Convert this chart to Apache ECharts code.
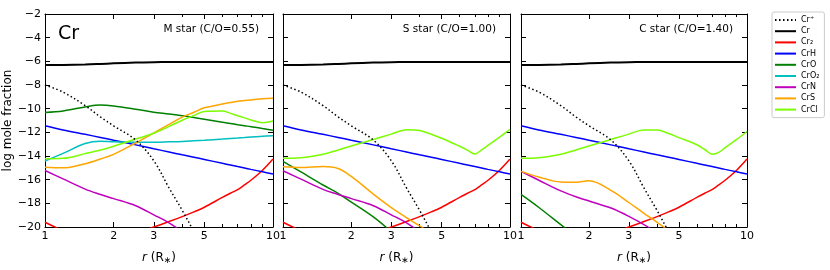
<!DOCTYPE html>
<html><head><meta charset="utf-8">
<script src="https://cdn.jsdelivr.net/npm/echarts@6/dist/echarts.min.js"></script>
<style>html,body{margin:0;padding:0;background:#fff}#c{width:830px;height:270px}</style>
</head><body><div id="c"></div>
<script>
// radius grid (R*)
const R = [1, 1.2, 1.5, 1.75, 2, 2.5, 3, 3.5, 4, 4.5, 5, 6, 6.5, 7, 7.5, 8, 9, 10];
const xMajorLabels = [1, 2, 3, 5, 10];
const xMinorTicks = [4, 6, 7, 8, 9];
const panelTitles = ['M star (C/O=0.55)', 'S star (C/O=1.00)', 'C star (C/O=1.40)'];
const speciesNames = ['Cr\u207A', 'Cr', 'Cr\u2082', 'CrH', 'CrO', 'CrO\u2082', 'CrN', 'CrS', 'CrCl'];

// common to all panels
const crPlus = [-8, -8.6, -9.74, -10.7, -11.45, -12.65, -14.4, -16.7, -18.6, -20.4, -22, null, null, null, null, null, null, null];
const crAtom = [-6.32, -6.31, -6.27, -6.22, -6.17, -6.1, -6.07, -6.06, -6.05, -6.05, -6.05, -6.05, -6.05, -6.05, -6.05, -6.05, -6.05, -6.05];
const cr2 = [-19.6, -20.3, -20.9, -21.0, -20.9, -20.5, -20.0, -19.54, -19.12, -18.72, -18.33, -17.5, -17.15, -16.84, -16.44, -16.05, -15.2, -14.26];
const crH = [-11.44, -11.8, -12.17, -12.43, -12.67, -13.06, -13.39, -13.66, -13.9, -14.1, -14.29, -14.62, -14.76, -14.89, -15.01, -15.13, -15.34, -15.53];

// M star
const crO_M = [-10.32, -10.2, -9.85, -9.7, -9.78, -10.05, -10.3, -10.45, -10.6, -10.75, -10.9, -11.15, -11.25, -11.35, -11.44, -11.52, -11.68, -11.82];
const crO2_M = [-14.42, -13.78, -12.95, -12.75, -12.8, -12.83, -12.83, -12.8, -12.77, -12.72, -12.67, -12.57, -12.52, -12.48, -12.44, -12.4, -12.33, -12.28];
const crN_M = [-15.23, -15.93, -16.8, -17.25, -17.6, -18.2, -18.97, -19.65, -20.4, -21.1, null, null, null, null, null, null, null, null];
const crS_M = [-14.95, -15.0, -14.65, -14.25, -13.86, -12.9, -12.05, -11.33, -10.71, -10.3, -9.93, -9.61, -9.48, -9.37, -9.31, -9.26, -9.17, -9.12];
const crCl_M = [-14.24, -14.2, -13.8, -13.5, -13.17, -12.57, -12.08, -11.5, -10.98, -10.57, -10.23, -10.2, -10.4, -10.6, -10.78, -10.95, -11.18, -11.05];

// S star
const crO_S = [-14.45, -15.35, -16.45, -17.15, -17.9, -19.15, -20.4, null, null, null, null, null, null, null, null, null, null, null];
const crO2_S = [null, null, null, null, null, null, null, null, null, null, null, null, null, null, null, null, null, null];
const crN_S = [-15.25, -15.95, -16.82, -17.25, -17.6, -18.2, -18.97, -19.65, -20.4, -21.1, null, null, null, null, null, null, null, null];
const crS_S = [-14.9, -14.97, -14.88, -15.05, -15.73, -17.22, -18.36, -19.2, -19.9, -20.5, null, null, null, null, null, null, null, null];
const crCl_S = [-14.2, -14.15, -13.85, -13.5, -13.15, -12.6, -12.15, -11.78, -11.85, -12.16, -12.5, -13.18, -13.5, -13.83, -13.48, -13.1, -12.4, -11.75];

// C star
const crO_C = [-17.25, -18.35, -19.8, -20.8, null, null, null, null, null, null, null, null, null, null, null, null, null, null];
const crO2_C = [null, null, null, null, null, null, null, null, null, null, null, null, null, null, null, null, null, null];
const crN_C = [-15.3, -16.05, -16.95, -17.45, -17.8, -18.4, -19.1, -19.8, -20.5, -21.2, null, null, null, null, null, null, null, null];
const crS_C = [-15.3, -15.78, -16.2, -16.22, -16.1, -16.9, -17.93, -18.84, -19.6, -20.3, null, null, null, null, null, null, null, null];
const crCl_C = [-14.2, -14.15, -13.85, -13.5, -13.15, -12.6, -12.15, -11.8, -11.8, -12.1, -12.45, -13.05, -13.45, -13.85, -13.7, -13.3, -12.6, -11.93];

const panels = [
  [crPlus, crAtom, cr2, crH, crO_M, crO2_M, crN_M, crS_M, crCl_M],
  [crPlus, crAtom, cr2, crH, crO_S, crO2_S, crN_S, crS_S, crCl_S],
  [crPlus, crAtom, cr2, crH, crO_C, crO2_C, crN_C, crS_C, crCl_C]
];
const colors = ['#000000', '#000000', '#ff0000', '#0000ff', '#008000', '#00bfbf', '#bf00bf', '#ffa500', '#7cfc00'];

const grids = [
  {left: 45, top: 14, width: 228, height: 223},
  {left: 283, top: 14, width: 227, height: 223},
  {left: 521, top: 14, width: 226, height: 223}
];

const FONT = 'DejaVu Sans';
const TICK = {color: '#000', width: 1};
const xAxes = [], yAxes = [], series = [], titles = [];
grids.forEach((g, gi) => {
  const base = {gridIndex: gi, type: 'log', logBase: 10, min: 1, max: 10, splitLine: {show: false}, minorTick: {show: false}};
  xAxes.push(Object.assign({}, base, {
    position: 'bottom',
    axisLine: {show: true, onZero: false, lineStyle: {color: '#000', width: 1}},
    axisTick: {show: true, inside: true, length: 5, customValues: xMajorLabels, lineStyle: TICK},
    axisLabel: {show: true, customValues: xMajorLabels, margin: 4, color: '#000', fontSize: 11, fontFamily: FONT},
    name: '{i|r} (R{s|\u2217})', nameLocation: 'middle', nameGap: 24,
    nameTextStyle: {color: '#000', fontSize: 12, fontFamily: FONT,
      rich: {i: {fontStyle: 'italic', fontSize: 12, fontFamily: FONT}, s: {fontSize: 9, fontFamily: FONT, padding: [5, 0, 0, 0]}}}
  }));
  xAxes.push(Object.assign({}, base, {
    position: 'bottom', axisLine: {show: false},
    axisTick: {show: true, inside: true, length: 3, customValues: xMinorTicks, lineStyle: TICK},
    axisLabel: {show: false}
  }));
  xAxes.push(Object.assign({}, base, {
    position: 'top',
    axisLine: {show: true, onZero: false, lineStyle: {color: '#000', width: 1}},
    axisTick: {show: true, inside: true, length: 5, customValues: xMajorLabels, lineStyle: TICK},
    axisLabel: {show: false}
  }));
  xAxes.push(Object.assign({}, base, {
    position: 'top', axisLine: {show: false},
    axisTick: {show: true, inside: true, length: 3, customValues: xMinorTicks, lineStyle: TICK},
    axisLabel: {show: false}
  }));
  const yBase = {gridIndex: gi, type: 'value', min: -20, max: -2, interval: 2, splitLine: {show: false}};
  yAxes.push(Object.assign({}, yBase, {
    position: 'left',
    axisLine: {show: true, onZero: false, lineStyle: {color: '#000', width: 1}},
    axisTick: {show: true, inside: true, length: 5, lineStyle: TICK},
    axisLabel: {show: gi === 0, margin: 4, color: '#000', fontSize: 11, fontFamily: FONT,
      formatter: v => (v < 0 ? '\u2212' + Math.abs(v) : String(v))},
    name: gi === 0 ? 'log mole fraction' : '', nameLocation: 'middle', nameGap: 26,
    nameTextStyle: {color: '#000', fontSize: 12, fontFamily: FONT}
  }));
  yAxes.push(Object.assign({}, yBase, {
    position: 'right',
    axisLine: {show: true, onZero: false, lineStyle: {color: '#000', width: 1}},
    axisTick: {show: true, inside: true, length: 5, lineStyle: TICK},
    axisLabel: {show: false}
  }));
  panels[gi].forEach((vals, si) => {
    const data = [];
    R.forEach((r, k) => { if (vals[k] !== null) data.push([r, vals[k]]); });
    series.push({
      type: 'line', name: speciesNames[si], xAxisIndex: 4 * gi, yAxisIndex: 2 * gi,
      data: data, smooth: 0.35, showSymbol: false, symbol: 'none', clip: true,
      color: colors[si],
      lineStyle: {color: colors[si], width: si === 1 ? 2 : 1.5, type: si === 0 ? [1.5, 2.5] : 'solid'},
      z: si === 0 ? 5 : 3
    });
  });
  titles.push({text: panelTitles[gi], right: 830 - (g.left + g.width) + 9, top: 19,
    textStyle: {fontSize: 10.5, fontWeight: 'normal', color: '#000', fontFamily: FONT}});
});
titles.push({text: 'Cr', left: 53, top: 20, textStyle: {fontSize: 19, fontWeight: 'normal', color: '#000', fontFamily: FONT}});

const chart = echarts.init(document.getElementById('c'), null, {renderer: 'canvas'});
chart.setOption({
  animation: false,
  backgroundColor: '#fff',
  title: titles,
  grid: grids,
  xAxis: xAxes,
  yAxis: yAxes,
  legend: {
    data: speciesNames, orient: 'vertical', left: 772, top: 12,
    itemWidth: 21, itemHeight: 8, itemGap: 3.2,
    itemStyle: {opacity: 0, borderWidth: 0},
    padding: [4, 5, 4, 2], borderColor: '#cccccc', borderWidth: 1, borderRadius: 2,
    textStyle: {fontSize: 8, color: '#000', fontFamily: FONT}, selectedMode: false
  },
  series: series
});
</script></body></html>
